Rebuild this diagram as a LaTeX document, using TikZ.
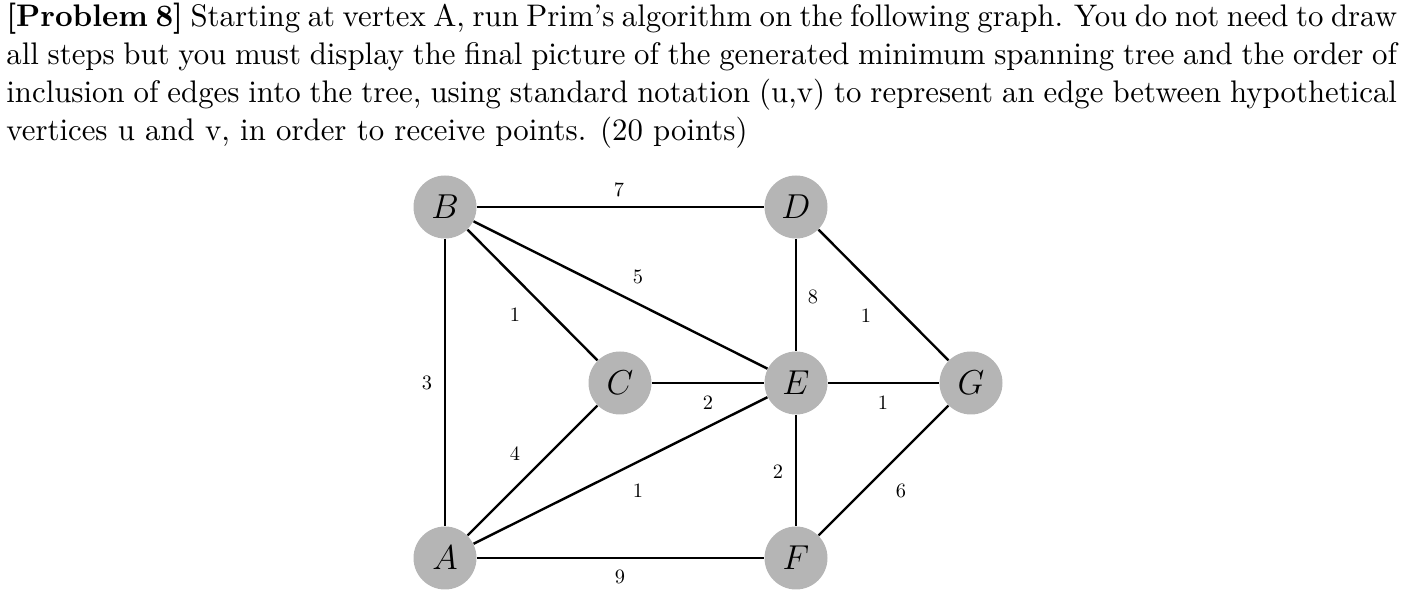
\documentclass[tikz,border=0pt]{standalone}
\usetikzlibrary{positioning}
\definecolor{nodegray}{RGB}{181,181,181}
\tikzset{
  vtx/.style={circle, fill=nodegray, draw=none, minimum size=31.5pt, inner sep=0pt, font=\fontsize{16.5pt}{18pt}\selectfont},
  edgeline/.style={line width=1.2pt, black},
  wlbl/.style={inner sep=0pt, font=\fontsize{10.2pt}{12pt}\selectfont}
}
\begin{document}
\begin{tikzpicture}[x=0.5pt,y=-0.5pt]
\useasboundingbox (0,0) rectangle (1409,592);
\node[anchor=base west, inner sep=0pt] (txt) at (6,27)
 {\scalebox{1.54}[1.56]{\begin{minipage}[t]{451.5pt}\fontsize{10pt}{12.18pt}\selectfont
 \spaceskip=0.3333em plus 0.25em minus 0.2em
 \xspaceskip=0.45em plus 0.25em minus 0.2em
 \textbf{[Problem 8]} Starting at vertex A, run Prim's algorithm on the following graph.  You do not need to draw\linebreak
 all steps but you must display the final picture of the generated minimum spanning tree and the order of\linebreak
 inclusion of edges into the tree, using standard notation (u,v) to represent an edge between hypothetical\linebreak
 vertices u and v, in order to receive points. (20 points)\end{minipage}}};

\node[vtx] (B) at (445,207) {$B$};
\node[vtx] (D) at (796,207) {$D$};
\node[vtx] (C) at (620,383) {$C$};
\node[vtx] (E) at (796,383) {$E$};
\node[vtx] (G) at (971,383) {$G$};
\node[vtx] (A) at (445,558) {$A$};
\node[vtx] (F) at (796,558) {$F$};

\draw[edgeline] (B) -- (D);
\draw[edgeline] (B) -- (E);
\draw[edgeline] (B) -- (C);
\draw[edgeline] (B) -- (A);
\draw[edgeline] (D) -- (E);
\draw[edgeline] (D) -- (G);
\draw[edgeline] (C) -- (E);
\draw[edgeline] (E) -- (G);
\draw[edgeline] (C) -- (A);
\draw[edgeline] (A) -- (E);
\draw[edgeline] (E) -- (F);
\draw[edgeline] (G) -- (F);
\draw[edgeline] (A) -- (F);

\node[wlbl] (wBD) at (619,190) {7};
\node[wlbl] (wBE) at (638,277) {5};
\node[wlbl] (wBC) at (515,315) {1};
\node[wlbl] (wDE) at (813,297) {8};
\node[wlbl] (wDG) at (866,316) {1};
\node[wlbl] (wBA) at (427,383) {3};
\node[wlbl] (wCE) at (708,403) {2};
\node[wlbl] (wEG) at (883,403) {1};
\node[wlbl] (wCA) at (515,454) {4};
\node[wlbl] (wEF) at (778,472) {2};
\node[wlbl] (wAE) at (638,491) {1};
\node[wlbl] (wGF) at (901,491) {6};
\node[wlbl] (wAF) at (620,577) {9};
\end{tikzpicture}
\end{document}
